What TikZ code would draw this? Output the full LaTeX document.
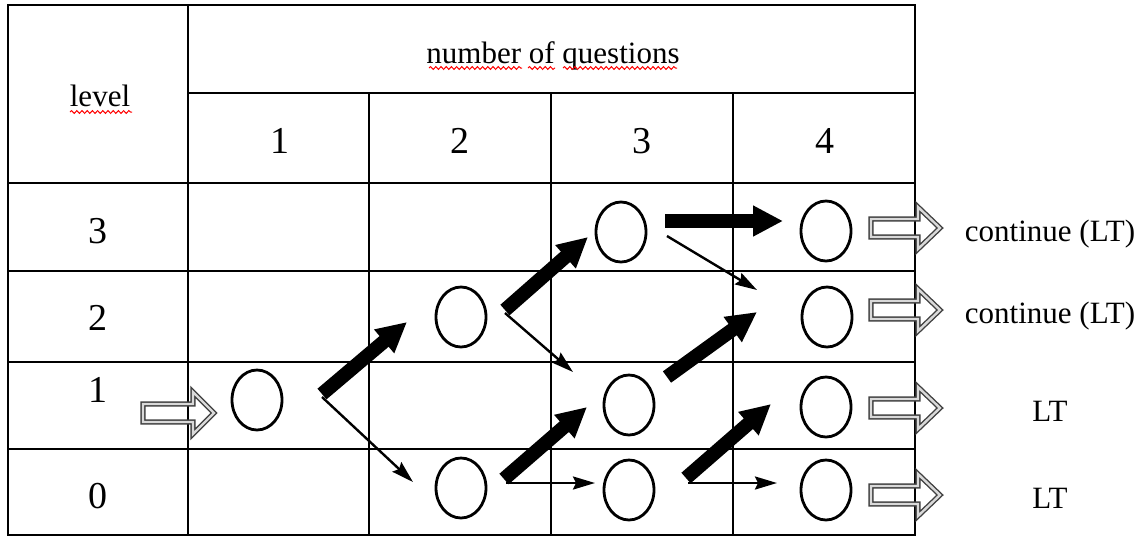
\documentclass[tikz,border=0pt]{standalone}
\usepackage{fontspec}
\setmainfont{Liberation Serif}
\newfontfamily\tnr{Liberation Serif}
\usetikzlibrary{arrows.meta,positioning,calc,shapes.geometric,decorations.pathmorphing}

\begin{document}
\begin{tikzpicture}[x=0.5pt,y=-0.5pt,every node/.style={font=\tnr\fontsize{15.5}{18}\selectfont},
  grid/.style={line width=1pt},
  digit/.style={font=\tnr\fontsize{19}{21}\selectfont,anchor=base},
  qnode/.style={draw,ellipse,line width=1.4pt,minimum width=25pt,minimum height=30pt,inner sep=0pt},
  bigarrow/.style={line width=7pt,-{Triangle[length=15pt,width=14.5pt]}},
  smallarrow/.style={line width=1.2pt,-{Stealth[length=11pt,width=6.5pt,inset=1.5pt]}},
  openarrow/.style={draw=black!75,double=black!15,double distance=1.2pt,line width=0.7pt},
  spell/.style={red,line width=0.5pt,decorate,decoration={snake,amplitude=0.7pt,segment length=2.6pt}}]
  \useasboundingbox (0,0) rectangle (1141,537);
  % table
  \draw[grid] (8,5) rectangle (915,535);
  \draw[grid] (188,5) -- (188,535);
  \draw[grid] (188,93) -- (915,93);
  \foreach \x in {369,551,733} {\draw[grid] (\x,93) -- (\x,535);}
  \foreach \y in {183,271,362,449} {\draw[grid] (8,\y) -- (915,\y);}
  \node[anchor=base] (level) at (100,106) {level};
  \node[anchor=base] (nq) at (553,63) {number of questions};
  \draw[spell] (70,112) -- (132,112);
  \draw[spell] (429,68) -- (522,68);
  \draw[spell] (528,68) -- (555,68);
  \draw[spell] (563,68) -- (677,68);
  \foreach \x/\n in {280/1,460/2,642/3,825/4} {\node[digit] (col\n) at (\x,153) {\n};}
  \foreach \y/\n in {243/3,330/2,402/1,508/0} {\node[digit] (row\n) at (98,\y) {\n};}
  % answers
  \node[qnode] (q1l1) at (257,400) {};
  \node[qnode] (q2l2) at (461,317) {};
  \node[qnode] (q2l0) at (461,488) {};
  \node[qnode] (q3l3) at (621,232) {};
  \node[qnode] (q3l1) at (629,405) {};
  \node[qnode] (q3l0) at (629,490) {};
  \node[qnode] (q4l3) at (826,231) {};
  \node[qnode] (q4l2) at (827,317) {};
  \node[qnode] (q4l1) at (826,407) {};
  \node[qnode] (q4l0) at (826,490) {};
  % branches
  \coordinate (v1) at (322,394);  \coordinate (u1) at (407,322); \coordinate (d1) at (413,482);
  \coordinate (v2) at (505,310);  \coordinate (u2) at (588,237); \coordinate (d2) at (573,372);
  \coordinate (v3) at (504,479);  \coordinate (u3) at (587,407); \coordinate (d3) at (595,483);
  \coordinate (v4) at (686,478);  \coordinate (u4) at (771,404); \coordinate (d4) at (777,483);
  \coordinate (v5) at (665,221);  \coordinate (u5) at (783,221);
  \coordinate (v6) at (667,236);  \coordinate (d6) at (757,290);
  \coordinate (v7) at (667,377);  \coordinate (u7) at (757,312);
  \draw[bigarrow] (v1) -- (u1); \draw[smallarrow] ($(v1)+(0,3)$) -- (d1);
  \draw[bigarrow] (v2) -- (u2); \draw[smallarrow] ($(v2)+(0,3)$) -- (d2);
  \draw[bigarrow] (v3) -- (u3); \draw[smallarrow] ($(v3)+(2,4)$) -- (d3);
  \draw[bigarrow] (v4) -- (u4); \draw[smallarrow] ($(v4)+(2,5)$) -- (d4);
  \draw[bigarrow] (v5) -- (u5); \draw[smallarrow] (v6) -- (d6);
  \draw[bigarrow] (v7) -- (u7);
  % in and out
  \draw[openarrow] (143,404) -- (193,404) -- (193,392) -- (214,413) -- (193,434) -- (193,422) -- (143,422) -- cycle;
  \foreach \y/\lab [count=\i] in {228/continue (LT),310/continue (LT),408/LT,495/LT} {
    \draw[openarrow] (871,\y-9) -- (918,\y-9) -- (918,\y-21) -- (940,\y) -- (918,\y+21) -- (918,\y+9) -- (871,\y+9) -- cycle;
    \node[anchor=base] (out\i) at (1050,\y+13) {\lab};
  }
\end{tikzpicture}
\end{document}
